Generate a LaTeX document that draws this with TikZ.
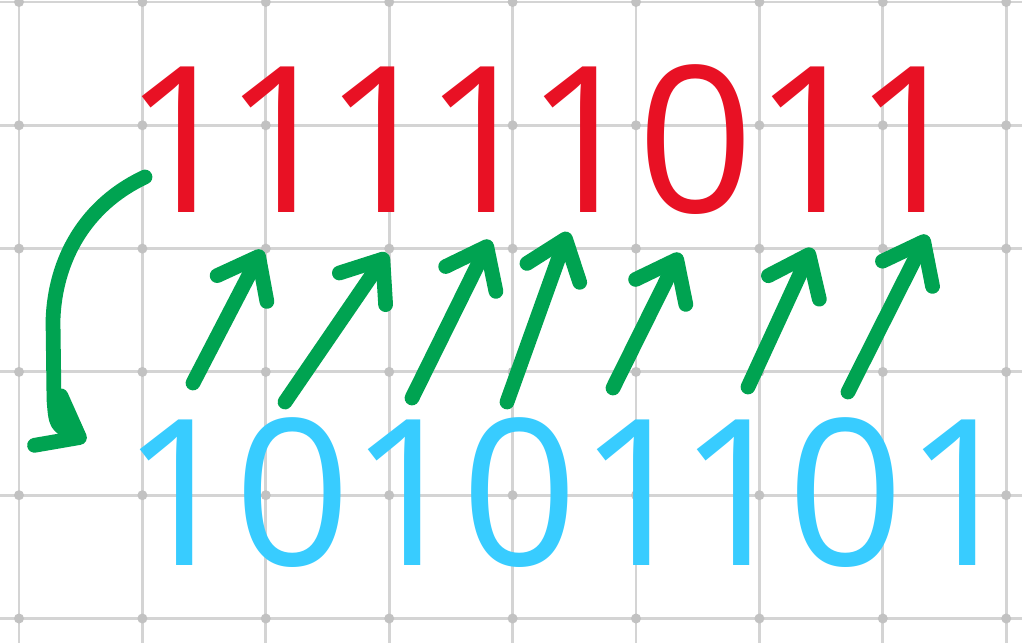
\documentclass[tikz,border=0pt]{standalone}
\usepackage{fontspec}
\setsansfont{Open Sans}
\usetikzlibrary{arrows.meta}

\definecolor{penred}{HTML}{E81124}
\definecolor{penblue}{HTML}{38CCFF}
\definecolor{pengreen}{HTML}{00A351}
\definecolor{papergrid}{HTML}{D4D4D4}
\definecolor{paperdot}{HTML}{C2C2C2}

\tikzset{
    bit/.style={font=\sffamily\fontsize{58}{60}\selectfont, inner sep=0pt, anchor=base},
    pen/.style={draw=pengreen, line width=4.2pt, line cap=round, line join=round,
        -{Straight Barb[length=3.6mm, width=5.6mm, round]}},
}

\begin{document}
\begin{tikzpicture}[x=0.01cm, y=-0.01cm]
                \useasboundingbox (0,0) rectangle (1022,643);
                \fill[white] (0,0) rectangle (1022,643);
                % squared paper
                \foreach \gx in {19,142.4,...,1010} \draw[papergrid, line width=0.8pt] (\gx,0) -- (\gx,643);
                \foreach \gy in {2,125.3,...,640} \draw[papergrid, line width=0.8pt] (0,\gy) -- (1022,\gy);
                \foreach \gx in {19,142.4,...,1010}
                    \foreach \gy in {2,125.3,...,640}
                        \fill[paperdot] (\gx,\gy) circle (5);
                % the two rows of bits
                \foreach \b/\x [count=\i] in {1/182,1/282,1/382,1/482,1/584,0/696,1/812,1/912}
                    \node[bit, text=penred] (r\i) at (\x,213) {\b};
                \foreach \b/\x [count=\i] in {1/180,0/293,1/408,0/520,1/637,1/737,0/846,1/963}
                    \node[bit, text=penblue] (b\i) at (\x,565) {\b};
                % carry arrows
                \foreach \ax/\ay/\ex/\ey [count=\i] in {193/383/262/250, 285/402/387/253,
                        412/398/490/240, 507/402/568/232, 613/388/680/253,
                        748/387/812/248, 848/392/927/235} {
                    \coordinate (s\i) at (\ax,\ay);
                    \coordinate (e\i) at (\ex,\ey);
                    \draw[pen] (s\i) -- (e\i);
                }
                \coordinate (wrapS) at (145,177);
                \coordinate (wrapE) at (86,441);
                \draw[pen] (wrapS) .. controls (85,205) and (55,260) .. (53,320) -- (54,400) .. controls (56,425) .. (wrapE);
            \end{tikzpicture}
\end{document}
